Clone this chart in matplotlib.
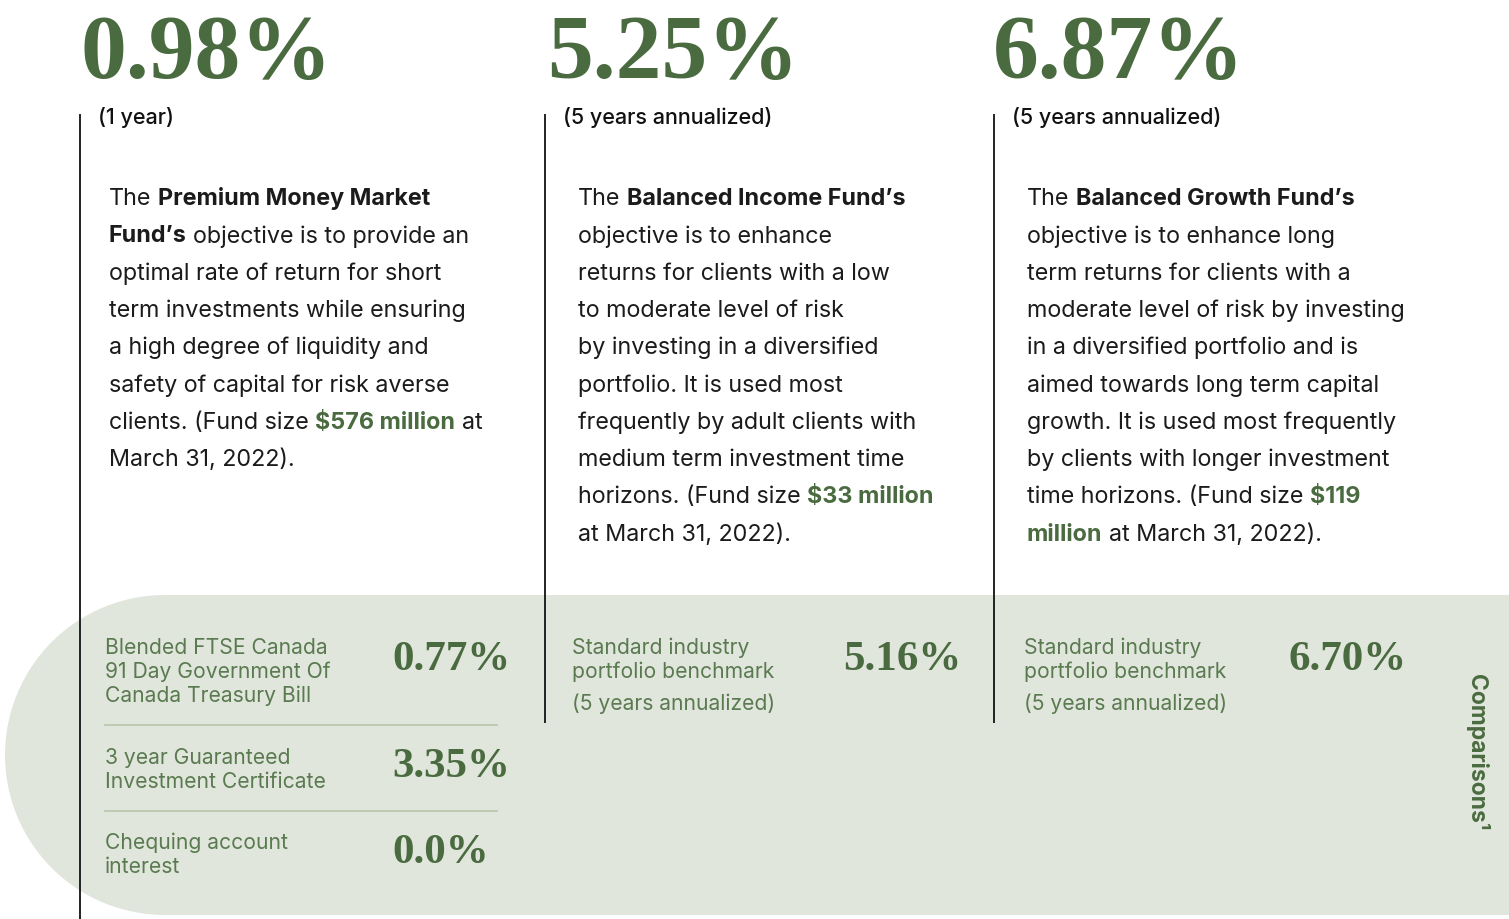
import matplotlib
matplotlib.use('Agg')
import matplotlib.pyplot as plt
from matplotlib.patches import Circle, Rectangle

# headline returns of the three funds
fund_returns = ['0.98%', '5.25%', '6.87%']
fund_periods = ['(1 year)', '(5 years annualized)', '(5 years annualized)']

# fund descriptions: each line is a list of (text, style) runs
# style: 'n' normal, 'b' bold black, 'g' bold green
fund_text = [
    [[('The ', 'n'), ('Premium Money Market', 'b')],
     [('Fund’s', 'b'), (' objective is to provide an', 'n')],
     [('optimal rate of return for short', 'n')],
     [('term investments while ensuring', 'n')],
     [('a high degree of liquidity and', 'n')],
     [('safety of capital for risk averse', 'n')],
     [('clients. (Fund size ', 'n'), ('$576 million', 'g'), (' at', 'n')],
     [('March 31, 2022).', 'n')]],
    [[('The ', 'n'), ('Balanced Income Fund’s', 'b')],
     [('objective is to enhance', 'n')],
     [('returns for clients with a low', 'n')],
     [('to moderate level of risk', 'n')],
     [('by investing in a diversified', 'n')],
     [('portfolio. It is used most', 'n')],
     [('frequently by adult clients with', 'n')],
     [('medium term investment time', 'n')],
     [('horizons. (Fund size ', 'n'), ('$33 million', 'g')],
     [('at March 31, 2022).', 'n')]],
    [[('The ', 'n'), ('Balanced Growth Fund’s', 'b')],
     [('objective is to enhance long', 'n')],
     [('term returns for clients with a', 'n')],
     [('moderate level of risk by investing', 'n')],
     [('in a diversified portfolio and is', 'n')],
     [('aimed towards long term capital', 'n')],
     [('growth. It is used most frequently', 'n')],
     [('by clients with longer investment', 'n')],
     [('time horizons. (Fund size ', 'n'), ('$119', 'g')],
     [('million', 'g'), (' at March 31, 2022).', 'n')]],
]

# comparisons for the money market fund
mm_labels = [['Blended FTSE Canada', '91 Day Government Of', 'Canada Treasury Bill'],
             ['3 year Guaranteed', 'Investment Certificate'],
             ['Chequing account', 'interest']]
mm_values = ['0.77%', '3.35%', '0.0%']

# benchmarks for the balanced funds
bench_label = ['Standard industry', 'portfolio benchmark']
bench_period = '(5 years annualized)'
bench_values = ['5.16%', '6.70%']

GREEN = '#4a6b40'
LABEL_GREEN = '#5a7a50'
PANEL = '#e1e6dc'
RULE = '#b7c6aa'
INK = '#1b1b1b'
SANS = ['Inter', 'DejaVu Sans']
SERIF = ['Liberation Serif', 'DejaVu Serif']

W, H = 1509, 919
fig = plt.figure(figsize=(W / 100, H / 100), dpi=100)
ax = fig.add_axes([0, 0, 1, 1])
ax.set_xlim(0, W)
ax.set_ylim(H, 0)
ax.axis('off')

renderer = fig.canvas.get_renderer()


def text_width(s, **kw):
    t = ax.text(0, 0, s, **kw)
    bb = t.get_window_extent(renderer=renderer)
    t.remove()
    return bb.width


def draw_runs(x, y, runs, size):
    for txt, style in runs:
        kw = dict(fontsize=size, family=SANS, va='center', ha='left')
        if style == 'n':
            kw.update(color=INK, fontweight='normal')
        elif style == 'b':
            kw.update(color=INK, fontweight='bold')
        else:
            kw.update(color=GREEN, fontweight='bold')
        space = text_width('a a', **kw) - text_width('aa', **kw)
        if txt.startswith(' '):
            x += space
        core = txt.strip()
        t = ax.text(x, y, core, **kw)
        x += t.get_window_extent(renderer=renderer).width
        if txt.endswith(' '):
            x += space


def draw_label(x, y0, lines):
    for j, s in enumerate(lines):
        ax.text(x, y0 + j * 24, s, fontsize=15.2, family=SANS,
                fontweight='normal', color=LABEL_GREEN, va='center', ha='left')


# background panel with a half-round left end
ax.add_patch(Circle((165, 755), 160, facecolor=PANEL, edgecolor='none', zorder=0))
ax.add_patch(Rectangle((165, 595), W, 320, facecolor=PANEL, edgecolor='none', zorder=0))

num_x = [80, 547, 993]
rule_x = [80, 545, 994]
rule_end = [919, 722, 722]
body_x = [109, 578, 1027]

for i in range(3):
    ax.text(num_x[i], 78, fund_returns[i], fontsize=66, family=SERIF,
            fontweight='bold', color=GREEN, va='baseline', ha='left')
    ax.plot([rule_x[i], rule_x[i]], [115, rule_end[i]], color='#222222', lw=1.4)
    ax.text(rule_x[i] + 18, 117, fund_periods[i], fontsize=15.5, family=SANS,
            fontweight='medium', color='#111111', va='center', ha='left')
    for j, line in enumerate(fund_text[i]):
        draw_runs(body_x[i], 199 + j * 37.3, line, 16.8)

# money market comparisons
row_y = [648, 758, 843]
row_base = [670, 777, 863]
for k in range(3):
    draw_label(105, row_y[k], mm_labels[k])
    ax.text(392, row_base[k], mm_values[k], fontsize=31, family=SERIF,
            fontweight='bold', color=GREEN, va='baseline', ha='left')
for ry in [725, 811]:
    ax.plot([105, 497], [ry, ry], color=RULE, lw=1.2)

# balanced fund benchmarks
bench_x = [572, 1024]
bench_num_x = [843, 1289]
for k in range(2):
    draw_label(bench_x[k], 648, bench_label)
    draw_label(bench_x[k], 704, [bench_period])
    ax.text(bench_num_x[k], 670, bench_values[k], fontsize=31, family=SERIF,
            fontweight='bold', color=GREEN, va='baseline', ha='left')

ax.text(1477, 752, 'Comparisons¹', fontsize=16.5, family=SANS, fontweight='bold',
        color=GREEN, rotation=-90, va='center', ha='center')

fig.savefig('out.png', dpi=100, facecolor='white')
